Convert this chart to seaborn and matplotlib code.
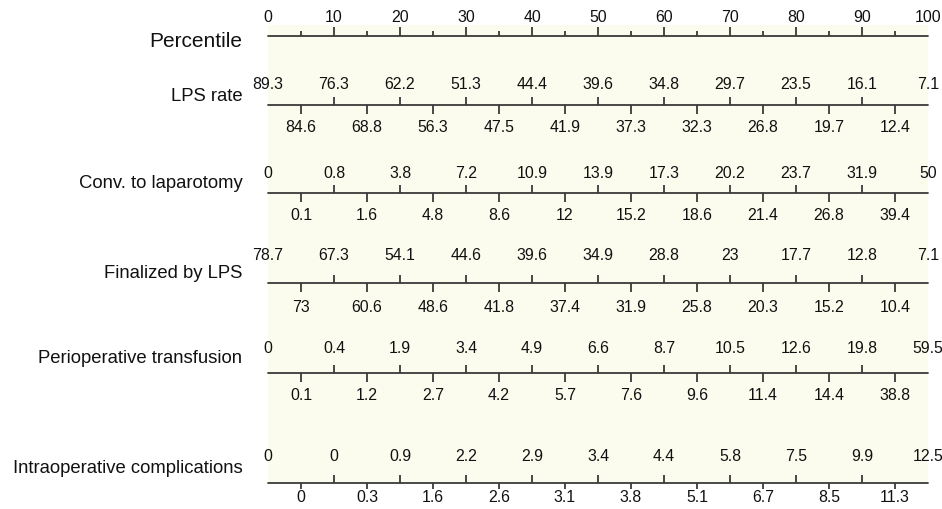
import matplotlib
matplotlib.use("Agg")
import matplotlib.pyplot as plt
import seaborn as sns
import pandas as pd

# ---- data ----
row_names = ["LPS rate", "Conv. to laparotomy", "Finalized by LPS",
             "Perioperative transfusion", "Intraoperative complications"]
percentile_ticks = [0, 10, 20, 30, 40, 50, 60, 70, 80, 90, 100]
percentile_minor = [5, 15, 25, 35, 45, 55, 65, 75, 85, 95]

lps_upper = [89.3, 76.3, 62.2, 51.3, 44.4, 39.6, 34.8, 29.7, 23.5, 16.1, 7.1]
lps_lower = [84.6, 68.8, 56.3, 47.5, 41.9, 37.3, 32.3, 26.8, 19.7, 12.4]
conv_upper = [0, 0.8, 3.8, 7.2, 10.9, 13.9, 17.3, 20.2, 23.7, 31.9, 50]
conv_lower = [0.1, 1.6, 4.8, 8.6, 12, 15.2, 18.6, 21.4, 26.8, 39.4]
fin_upper = [78.7, 67.3, 54.1, 44.6, 39.6, 34.9, 28.8, 23, 17.7, 12.8, 7.1]
fin_lower = [73, 60.6, 48.6, 41.8, 37.4, 31.9, 25.8, 20.3, 15.2, 10.4]
trans_upper = [0, 0.4, 1.9, 3.4, 4.9, 6.6, 8.7, 10.5, 12.6, 19.8, 59.5]
trans_lower = [0.1, 1.2, 2.7, 4.2, 5.7, 7.6, 9.6, 11.4, 14.4, 38.8]
comp_upper = [0, 0, 0.9, 2.2, 2.9, 3.4, 4.4, 5.8, 7.5, 9.9, 12.5]
comp_lower = [0, 0.3, 1.6, 2.6, 3.1, 3.8, 5.1, 6.7, 8.5, 11.3]

uppers = [lps_upper, conv_upper, fin_upper, trans_upper, comp_upper]
lowers = [lps_lower, conv_lower, fin_lower, trans_lower, comp_lower]

# ---- layout (pixel coordinates, y downward) ----
W, H = 942, 509
X0, X1 = 268, 928
TOP, BOT = 25, 483
pct_line_y = 36
row_line_y = [105, 193, 283, 373, 483]
row_label_base = [101, 188, 278, 363, 473]
upper_base = [89, 178, 260, 353, 461]
lower_base = [132, 220, 312, 400, 502]
lower_tick_len = [9, 9, 9, 9, 6]

sns.set_theme(style="white")
plt.rcParams["font.family"] = ["Liberation Sans", "DejaVu Sans"]

fig = plt.figure(figsize=(W / 100, H / 100), dpi=100)
ax = fig.add_axes([X0 / W, 1 - BOT / H, (X1 - X0) / W, (BOT - TOP) / H])
ax.set_facecolor("#FCFCEE")
ax.set_xlim(0, 100)
ax.set_ylim(BOT, TOP)
for s in ax.spines.values():
    s.set_visible(False)

LC = "#3a3a3a"
LW = 1.3
TFS = 11.4
TC = "#111111"
fmt = lambda v: f"{v:g}"

# axis lines drawn through seaborn
lines = pd.DataFrame({
    "x": [0, 100] * 6,
    "y": sum([[y, y] for y in [pct_line_y] + row_line_y], []),
    "row": sum([[i, i] for i in range(6)], []),
})
sns.lineplot(data=lines, x="x", y="y", units="row", estimator=None,
             color=LC, lw=LW, ax=ax, legend=False, clip_on=False)
ax.set_xlabel("")
ax.set_ylabel("")
ax.set_xticks([])
ax.set_yticks([])

# Percentile axis
ax.vlines(percentile_ticks[1:-1], pct_line_y - 9, pct_line_y, color=LC, lw=LW, clip_on=False)
ax.vlines(percentile_minor, pct_line_y - 5, pct_line_y, color=LC, lw=LW, clip_on=False)
for p in percentile_ticks:
    ax.text(p, 22, fmt(p), ha="center", va="baseline", fontsize=TFS, color=TC,
            clip_on=False, zorder=5)
ax.text(-3.9, 47, "Percentile", ha="right", va="baseline", fontsize=15, color=TC,
        clip_on=False, zorder=5)

for i, name in enumerate(row_names):
    y = row_line_y[i]
    ax.text(-3.9, row_label_base[i], name, ha="right", va="baseline", fontsize=13.3,
            color=TC, clip_on=False, zorder=5)
    ax.vlines(percentile_ticks[1:-1], y - 8, y, color=LC, lw=LW, clip_on=False)
    ax.vlines(percentile_minor, y, y + lower_tick_len[i], color=LC, lw=LW, clip_on=False)
    for p, v in zip(percentile_ticks, uppers[i]):
        ax.text(p, upper_base[i], fmt(v), ha="center", va="baseline", fontsize=TFS,
                color=TC, clip_on=False, zorder=5)
    for p, v in zip(percentile_minor, lowers[i]):
        ax.text(p, lower_base[i], fmt(v), ha="center", va="baseline", fontsize=TFS,
                color=TC, clip_on=False, zorder=5)

fig.savefig("out.png", dpi=100)
